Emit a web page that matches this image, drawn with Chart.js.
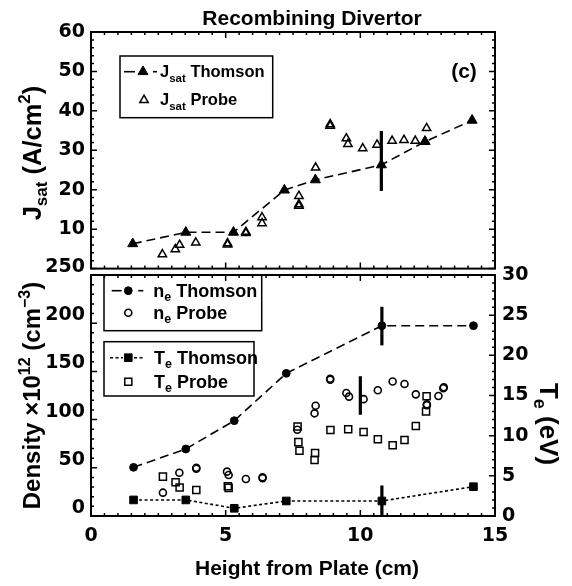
<!DOCTYPE html>
<html>
<head>
<meta charset="utf-8">
<title>Recombining Divertor</title>
<script src="https://cdn.jsdelivr.net/npm/chart.js@4.4.1/dist/chart.umd.min.js"></script>
<style>
  html, body { margin:0; padding:0; background:#fff; }
  #wrap { position:relative; width:572px; height:586px; overflow:hidden; background:#fff; }
  #cTop { position:absolute; left:0; top:0; }
  #cBot { position:absolute; left:0; top:250px; }
</style>
</head>
<body>
<div id="wrap">
  <canvas id="cTop" width="572" height="286"></canvas>
  <canvas id="cBot" width="572" height="336"></canvas>
</div>
<script>
// ---------------- data ----------------
const xTickValues = [0, 5, 10, 15];
const jsatTickValues = [10, 20, 30, 40, 50, 60];
const densityTickValues = [0, 50, 100, 150, 200, 250];
const teTickValues = [0, 5, 10, 15, 20, 25, 30];

// Jsat (A/cm^2) vs height (cm)
const jsatThomsonX = [1.55, 3.52, 5.29, 7.18, 8.33, 10.78, 12.40, 14.15];
const jsatThomsonY = [6.3, 9.2, 9.2, 19.9, 22.5, 26.3, 32.2, 37.6];
const jsatProbeX = [2.65, 3.13, 3.29, 3.89, 5.07, 5.07, 5.75, 5.75, 6.35, 6.35, 7.72, 7.72, 7.72, 8.34, 8.88, 8.88, 9.48, 9.54, 10.09, 10.62, 11.18, 11.62, 12.04, 12.46, 12.40];
const jsatProbeY = [3.6, 4.9, 6.0, 6.6, 6.1, 6.4, 9.0, 9.3, 13.0, 11.5, 18.4, 16.3, 15.9, 25.6, 36.6, 36.2, 33.0, 31.6, 30.5, 31.4, 32.4, 32.6, 32.4, 35.6, 32.3];
const jsatErrX = [10.78, 10.78];
const jsatErrY = [19.7, 34.9];

// Density (1e12 cm^-3)
const neThomsonX = [1.58, 3.52, 5.32, 7.25, 10.80, 14.20];
const neThomsonY = [50.5, 69.5, 98.9, 148.0, 197.4, 197.4];
const neProbeX = [2.67, 3.28, 3.91, 3.91, 5.05, 5.11, 5.75, 6.37, 6.37, 7.66, 8.30, 8.34, 8.88, 8.88, 9.48, 9.58, 10.12, 10.65, 11.20, 11.64, 12.06, 12.47, 12.47, 12.90, 13.10, 13.08];
const neProbeY = [24.2, 44.9, 50.0, 49.0, 46.0, 42.5, 38.4, 40.1, 39.3, 89.5, 106.5, 114.4, 142.4, 141.5, 127.6, 123.8, 121.2, 130.4, 139.6, 136.9, 126.2, 116.0, 115.0, 124.5, 133.6, 132.5];
const neThomsonErrX = [10.80, 10.80];
const neThomsonErrY = [177, 217];
const neProbeErrX = [10.00, 10.00];
const neProbeErrY = [105, 145];

// Te (eV)
const teThomsonX = [1.58, 3.52, 5.32, 7.25, 10.80, 14.20];
const teThomsonY = [2.0, 2.0, 0.96, 1.87, 1.87, 3.65];
const teProbeX = [2.67, 3.14, 3.29, 3.91, 5.08, 5.11, 7.67, 7.70, 7.74, 8.32, 8.30, 8.89, 9.55, 10.12, 10.65, 11.20, 11.64, 12.06, 12.44, 12.46];
const teProbeY = [4.9, 4.2, 3.55, 3.24, 3.7, 3.5, 11.15, 9.2, 8.13, 7.85, 6.97, 10.7, 10.8, 10.45, 9.55, 8.8, 9.46, 11.2, 13.0, 14.9];
const teThomsonErrX = [10.80, 10.80];
const teThomsonErrY = [0.1, 3.8];

// ---------------- helpers ----------------
const zip = (xs, ys) => xs.map((x, i) => ({ x: x, y: ys[i] }));
const TXT = '"Liberation Sans", Arial, sans-serif';
const NUM = '"DejaVu Sans", sans-serif';

function richText(ctx, parts, x, y, align) {
  let w = 0;
  parts.forEach(p => { ctx.font = 'bold ' + p[1] + 'px ' + TXT; w += ctx.measureText(p[0]).width; });
  let cx = align === 'center' ? x - w / 2 : (align === 'right' ? x - w : x);
  ctx.textAlign = 'left';
  ctx.textBaseline = 'alphabetic';
  ctx.fillStyle = '#000';
  parts.forEach(p => {
    ctx.font = 'bold ' + p[1] + 'px ' + TXT;
    ctx.fillText(p[0], cx, y + (p[2] || 0));
    cx += ctx.measureText(p[0]).width;
  });
}

function marker(ctx, style, x, y, r, filled, bw) {
  ctx.save();
  ctx.beginPath();
  if (style === 'triangle') {
    for (let k = 0; k < 3; k++) {
      const a = k * 2 * Math.PI / 3;
      const px = x + Math.sin(a) * r, py = y - Math.cos(a) * r;
      if (k === 0) ctx.moveTo(px, py); else ctx.lineTo(px, py);
    }
    ctx.closePath();
  } else if (style === 'rect') {
    const s = r * Math.SQRT1_2;
    ctx.rect(x - s, y - s, 2 * s, 2 * s);
  } else {
    ctx.arc(x, y, r, 0, Math.PI * 2);
  }
  ctx.lineWidth = bw;
  ctx.strokeStyle = '#000';
  if (filled) { ctx.fillStyle = '#000'; ctx.fill(); }
  ctx.stroke();
  ctx.restore();
}

function seg(ctx, x1, y, x2, w, dash) {
  ctx.save();
  ctx.beginPath();
  ctx.setLineDash(dash || []);
  ctx.lineWidth = w;
  ctx.strokeStyle = '#000';
  ctx.moveTo(x1, y); ctx.lineTo(x2, y);
  ctx.stroke();
  ctx.restore();
}

function drawTicks(ctx, a, scale, major, minor, side) {
  const min = scale.min, max = scale.max;
  const n = Math.round((max - min) / minor);
  ctx.beginPath();
  for (let i = 0; i <= n; i++) {
    const v = min + i * minor;
    const isMajor = Math.abs(v / major - Math.round(v / major)) < 1e-6;
    const len = isMajor ? 6 : 3;
    const p = scale.getPixelForValue(v);
    if (side === 'left') { ctx.moveTo(a.left, p); ctx.lineTo(a.left + len, p); }
    else if (side === 'right') { ctx.moveTo(a.right, p); ctx.lineTo(a.right - len, p); }
    else if (side === 'top') { ctx.moveTo(p, a.top); ctx.lineTo(p, a.top + len); }
    else { ctx.moveTo(p, a.bottom); ctx.lineTo(p, a.bottom - len); }
  }
  ctx.stroke();
}

function framePlugin(sides) {
  return {
    id: 'frame',
    afterDatasetsDraw(chart) {
      const ctx = chart.ctx, a = chart.chartArea;
      ctx.save();
      ctx.strokeStyle = '#000';
      ctx.lineWidth = 1.5;
      sides.forEach(s => drawTicks(ctx, a, chart.scales[s[0]], s[1], s[2], s[3]));
      ctx.lineWidth = 2;
      ctx.strokeRect(a.left, a.top, a.right - a.left, a.bottom - a.top);
      ctx.restore();
    }
  };
}

function lineDs(xs, ys, dash, style, r, width) {
  return {
    data: zip(xs, ys), showLine: true, borderColor: '#000', borderWidth: width || 1.6,
    borderDash: dash, pointStyle: style, pointRadius: r, pointBackgroundColor: '#000',
    pointBorderColor: '#000', pointBorderWidth: 1, tension: 0, clip: false
  };
}
function openDs(xs, ys, style, r, bw) {
  return {
    data: zip(xs, ys), showLine: false, pointStyle: style, pointRadius: r,
    pointBackgroundColor: 'rgba(0,0,0,0)', pointBorderColor: '#000', pointBorderWidth: bw, clip: false
  };
}
function errDs(xs, ys, yAxisID) {
  const d = { data: zip(xs, ys), showLine: true, borderColor: '#000', borderWidth: 3.2,
    pointRadius: 0, borderCapStyle: 'butt', clip: false };
  if (yAxisID) d.yAxisID = yAxisID;
  return d;
}

const tickFont = { family: NUM, weight: 'bold', size: 19 };

// ---------------- top chart ----------------
const topText = {
  id: 'topText',
  afterDraw(chart) {
    const ctx = chart.ctx;
    ctx.save();
    richText(ctx, [['Recombining Divertor', 21]], 312, 25, 'center');
    richText(ctx, [['(c)', 21]], 464, 78, 'center');
    // y title
    ctx.save();
    ctx.translate(41, 153);
    ctx.rotate(-Math.PI / 2);
    richText(ctx, [['J', 25.5], ['sat', 17, 6], [' (A/cm', 25.5], ['2', 17, -11], [')', 25.5]], 0, 0, 'center');
    ctx.restore();
    // legend box
    ctx.lineWidth = 1.5; ctx.strokeStyle = '#000';
    ctx.strokeRect(120, 56, 152.7, 61.7);
    seg(ctx, 124, 71.7, 135, 1.6);
    seg(ctx, 153, 71.7, 157, 1.6);
    marker(ctx, 'triangle', 143, 71.7, 5.8, true, 1);
    richText(ctx, [['J', 16.5], ['sat', 11.5, 5], [' Thomson', 16.5]], 160, 77.3, 'left');
    marker(ctx, 'triangle', 144, 100, 4.8, false, 1.5);
    richText(ctx, [['J', 16.5], ['sat', 11.5, 5], [' Probe', 16.5]], 160, 104.5, 'left');
    ctx.restore();
  }
};

new Chart(document.getElementById('cTop'), {
  type: 'scatter',
  data: {
    datasets: [
      errDs(jsatErrX, jsatErrY),
      lineDs(jsatThomsonX, jsatThomsonY, [9, 5], 'triangle', 5.8),
      openDs(jsatProbeX, jsatProbeY, 'triangle', 4.8, 1.5)
    ]
  },
  options: {
    responsive: false, animation: false, devicePixelRatio: 1,
    layout: { padding: { left: 0, right: 77, top: 32, bottom: 12 } },
    plugins: { legend: { display: false }, tooltip: { enabled: false }, title: { display: false } },
    scales: {
      x: { type: 'linear', min: 0, max: 15, display: false },
      y: {
        type: 'linear', min: 0, max: 60, position: 'left',
        afterFit(s) { s.width = 91; },
        afterBuildTicks(s) { s.ticks = jsatTickValues.map(v => ({ value: v })); },
        ticks: { font: tickFont, color: '#000', padding: 6 },
        grid: { display: false, drawTicks: false },
        border: { display: false }
      }
    }
  },
  plugins: [framePlugin([['y', 10, 2, 'left'], ['y', 10, 2, 'right'], ['x', 5, 0.5, 'top'], ['x', 5, 0.5, 'bottom']]), topText]
});

// ---------------- bottom chart ----------------
const OFF = 250;
const botText = {
  id: 'botText',
  afterDraw(chart) {
    const ctx = chart.ctx;
    ctx.save();
    // titles
    richText(ctx, [['Height from Plate (cm)', 21]], 307, 575 - OFF, 'center');
    ctx.save();
    ctx.translate(40, 395.5 - OFF);
    ctx.rotate(-Math.PI / 2);
    richText(ctx, [['Density ', 24], ['\u00d7', 24], ['10', 24], ['12', 16, -10], [' (cm', 24], ['\u22123', 16, -10], [')', 24]], 0, 0, 'center');
    ctx.restore();
    ctx.save();
    ctx.translate(540, 424 - OFF);
    ctx.rotate(Math.PI / 2);
    richText(ctx, [['T', 26], ['e', 18, 6], [' (eV)', 26]], 0, 0, 'center');
    ctx.restore();
    // legend 1
    ctx.lineWidth = 1.5; ctx.strokeStyle = '#000';
    ctx.strokeRect(104, 275 - OFF, 157.7, 55.7);
    seg(ctx, 111.7, 290.7 - OFF, 121.7, 1.6);
    seg(ctx, 138.3, 290.7 - OFF, 143.3, 1.6);
    marker(ctx, 'circle', 128.3, 290.7 - OFF, 3.9, true, 1);
    richText(ctx, [['n', 18], ['e', 12.5, 4], [' Thomson', 18]], 153.3, 296.9 - OFF, 'left');
    marker(ctx, 'circle', 128.3, 312.7 - OFF, 3.5, false, 1.6);
    richText(ctx, [['n', 18], ['e', 12.5, 4], [' Probe', 18]], 153.3, 318.9 - OFF, 'left');
    // legend 2
    ctx.strokeRect(104, 341.7 - OFF, 150, 54.3);
    seg(ctx, 110, 357.7 - OFF, 123, 1.6, [3, 2.5]);
    seg(ctx, 134, 357.7 - OFF, 144, 1.6, [3, 2.5]);
    marker(ctx, 'rect', 128.3, 357.7 - OFF, 5.4, true, 1);
    richText(ctx, [['T', 18], ['e', 12.5, 4], [' Thomson', 18]], 154, 363.5 - OFF, 'left');
    marker(ctx, 'rect', 128.3, 381.7 - OFF, 5, false, 1.5);
    richText(ctx, [['T', 18], ['e', 12.5, 4], [' Probe', 18]], 154, 387.7 - OFF, 'left');
    ctx.restore();
  }
};

new Chart(document.getElementById('cBot'), {
  type: 'scatter',
  data: {
    datasets: [
      errDs(neThomsonErrX, neThomsonErrY, 'y'),
      errDs(neProbeErrX, neProbeErrY, 'y'),
      errDs(teThomsonErrX, teThomsonErrY, 'yTe'),
      Object.assign(lineDs(neThomsonX, neThomsonY, [9, 5], 'circle', 3.9), { yAxisID: 'y' }),
      Object.assign(openDs(neProbeX, neProbeY, 'circle', 3.5, 1.6), { yAxisID: 'y' }),
      Object.assign(lineDs(teThomsonX, teThomsonY, [3, 2.5], 'rect', 5.4), { yAxisID: 'yTe' }),
      Object.assign(openDs(teProbeX, teProbeY, 'rect', 5, 1.5), { yAxisID: 'yTe' })
    ]
  },
  options: {
    responsive: false, animation: false, devicePixelRatio: 1,
    layout: { padding: { left: 0, right: 0, top: 25, bottom: 0 } },
    plugins: { legend: { display: false }, tooltip: { enabled: false }, title: { display: false } },
    scales: {
      x: {
        type: 'linear', min: 0, max: 15, position: 'bottom',
        afterFit(s) { s.height = 70; },
        afterBuildTicks(s) { s.ticks = xTickValues.map(v => ({ value: v })); },
        ticks: { font: tickFont, color: '#000', padding: 9, maxRotation: 0 },
        grid: { display: false, drawTicks: false },
        border: { display: false }
      },
      y: {
        type: 'linear', min: 0, max: 250, position: 'left',
        afterFit(s) { s.width = 91; },
        afterBuildTicks(s) { s.ticks = densityTickValues.map(v => ({ value: v })); },
        ticks: { font: tickFont, color: '#000', padding: 6, labelOffset: -8 },
        grid: { display: false, drawTicks: false },
        border: { display: false }
      },
      yTe: {
        type: 'linear', min: 0, max: 30, position: 'right',
        afterFit(s) { s.width = 77; },
        afterBuildTicks(s) { s.ticks = teTickValues.map(v => ({ value: v })); },
        ticks: { font: tickFont, color: '#000', padding: 7 },
        grid: { display: false, drawTicks: false },
        border: { display: false }
      }
    }
  },
  plugins: [framePlugin([['y', 50, 10, 'left'], ['yTe', 5, 1, 'right'], ['x', 5, 0.5, 'top'], ['x', 5, 0.5, 'bottom']]), botText]
});
</script>
</body>
</html>
